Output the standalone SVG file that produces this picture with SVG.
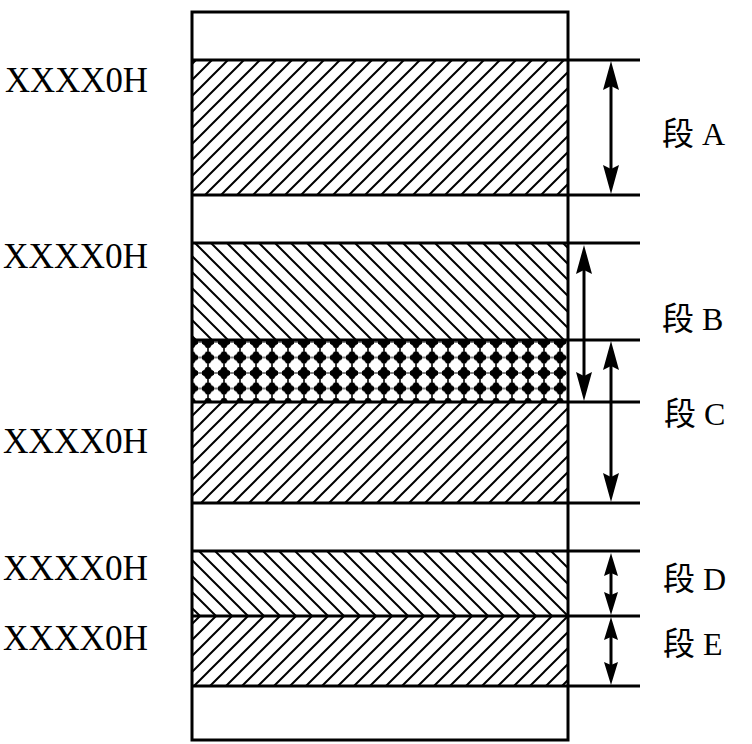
<svg xmlns="http://www.w3.org/2000/svg" width="752" height="744" viewBox="0 0 752 744">
<style>
.ln{stroke:#000;stroke-width:3;fill:none}
.lbl{font-family:"Liberation Serif","Times New Roman",serif;font-size:36px;fill:#000}
.seg{font-family:"Liberation Serif","Noto Sans CJK SC",serif;font-size:32px;fill:#000}
</style>
<defs>
<pattern id="fwd" patternUnits="userSpaceOnUse" width="16" height="16">
<path d="M-4,4 L4,-4 M0,16 L16,0 M12,20 L20,12" stroke="#000" stroke-width="2"/>
</pattern>
<pattern id="bwd" patternUnits="userSpaceOnUse" width="16" height="16">
<path d="M-4,12 L4,20 M0,0 L16,16 M12,-4 L20,4" stroke="#000" stroke-width="2"/>
</pattern>
<pattern id="cross" patternUnits="userSpaceOnUse" x="192" y="342" width="16" height="15.5">
<rect width="16" height="15.5" fill="#000"/>
<circle cx="8" cy="7.75" r="6.3" fill="#fff"/>
<path d="M8,0.6 V14.9 M0.8,7.75 H15.2" stroke="#fff" stroke-width="4"/>
</pattern>
<marker id="ah" viewBox="-30 -8 30 16" refX="-10" refY="0" markerWidth="30" markerHeight="16" markerUnits="userSpaceOnUse" orient="auto-start-reverse">
<path d="M0,0 L-29,-8 L-25,0 L-29,8 Z" fill="#000"/>
</marker>
<marker id="ahs" viewBox="-24 -7 24 14" refX="-10" refY="0" markerWidth="24" markerHeight="14" markerUnits="userSpaceOnUse" orient="auto-start-reverse">
<path d="M0,0 L-23,-7 L-20,0 L-23,7 Z" fill="#000"/>
</marker>
</defs>

<g id="memory">
<rect x="192" y="60" width="376" height="135" fill="url(#fwd)"/>
<rect x="192" y="243" width="376" height="97" fill="url(#bwd)"/>
<rect x="192" y="340" width="376" height="62" fill="url(#cross)"/>
<rect x="192" y="402" width="376" height="101" fill="url(#fwd)"/>
<rect x="192" y="551" width="376" height="65" fill="url(#bwd)"/>
<rect x="192" y="616" width="376" height="70" fill="url(#fwd)"/>
<rect x="192" y="12" width="376" height="728" class="ln"/>
</g>

<g id="boundaries">
<path class="ln" d="M192,60 H640 M192,195 H640 M192,243 H640 M192,340 H640 M192,402 H640 M192,503 H640 M192,551 H640 M192,616 H640 M192,686 H640"/>
</g>

<g id="connectors">
<line class="ln" x1="611" y1="71" x2="611" y2="184" marker-start="url(#ah)" marker-end="url(#ah)"/>
<line class="ln" x1="584" y1="255" x2="584" y2="391" marker-start="url(#ah)" marker-end="url(#ah)"/>
<line class="ln" x1="611" y1="351" x2="611" y2="492" marker-start="url(#ah)" marker-end="url(#ah)"/>
<line class="ln" x1="611" y1="563" x2="611" y2="605" marker-start="url(#ahs)" marker-end="url(#ahs)"/>
<line class="ln" x1="611" y1="627" x2="611" y2="675" marker-start="url(#ahs)" marker-end="url(#ahs)"/>
</g>

<g id="addr-labels">
<text class="lbl" x="5" y="92" textLength="143" lengthAdjust="spacingAndGlyphs">XXXX0H</text>
<text class="lbl" x="3" y="268" textLength="145" lengthAdjust="spacingAndGlyphs">XXXX0H</text>
<text class="lbl" x="3" y="453" textLength="145" lengthAdjust="spacingAndGlyphs">XXXX0H</text>
<text class="lbl" x="3" y="580" textLength="145" lengthAdjust="spacingAndGlyphs">XXXX0H</text>
<text class="lbl" x="3" y="650" textLength="145" lengthAdjust="spacingAndGlyphs">XXXX0H</text>
</g>

<g id="seg-A"><text class="seg" x="662" y="145">段 A</text></g>
<g id="seg-B"><text class="seg" x="662" y="330">段 B</text></g>
<g id="seg-C"><text class="seg" x="664" y="425">段 C</text></g>
<g id="seg-D"><text class="seg" x="663" y="590">段 D</text></g>
<g id="seg-E"><text class="seg" x="663" y="655">段 E</text></g>
</svg>
